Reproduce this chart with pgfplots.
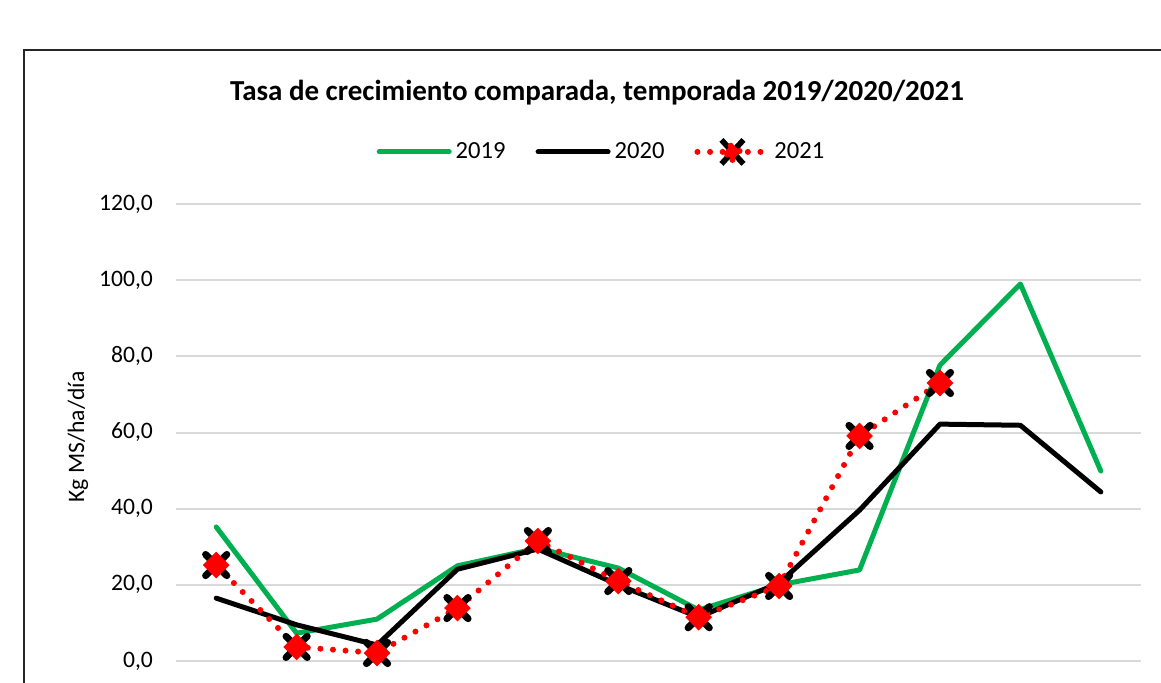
\documentclass[border=0pt]{standalone}
\usepackage{fontspec}
\setmainfont{Carlito}
\usepackage{pgfplots}
\pgfplotsset{compat=1.18}
\definecolor{cgreen}{RGB}{0,176,80}
\definecolor{cgrid}{RGB}{217,217,217}
\begin{document}
\begin{tikzpicture}[x=0.5pt,y=0.5pt]
\useasboundingbox (0,0) rectangle (1161,682);
\clip (0,0) rectangle (1161,682);
\fill[white] (0,0) rectangle (1161,682);
\draw[black!85, line width=1pt] (24,-20) rectangle (1200,632);
\node[font=\bfseries\fontsize{14.5}{17}\selectfont] at (597,589) {Tasa de crecimiento comparada, temporada 2019/2020/2021};
\node[rotate=90, font=\fontsize{11.8}{14}\selectfont] at (78,245) {Kg MS/ha/día};
\begin{axis}[
  at={(88pt,10.5pt)}, anchor=south west,
  scale only axis, width=482.5pt, height=228.5pt,
  xmin=-0.5, xmax=11.5, ymin=0, ymax=120,
  clip=false,
  axis line style={draw=none},
  xtick=\empty,
  ytick={0,20,...,120},
  major tick length=0pt,
  ymajorgrids,
  grid style={cgrid, line width=1pt},
  yticklabel style={font=\fontsize{11.8}{14}\selectfont, xshift=-8pt},
  /pgf/number format/assume math mode=true,
  /pgf/number format/.cd, fixed, fixed zerofill, precision=1, use comma, 1000 sep={},
  /pgfplots/.cd,
  legend style={at={(rel axis cs:0.442,1.114)}, anchor=center, draw=none, fill=none,
    legend columns=3, font=\fontsize{12.3}{14}\selectfont,
    /tikz/every even column/.append style={column sep=13pt},
    legend cell align=left},
]
\addplot[cgreen, line width=2.5pt, line join=round, line cap=round,
  legend image code/.code={\draw[cgreen, line width=2.5pt, line cap=round] (0pt,0pt) -- (35pt,0pt);}]
  coordinates {(0,35.2)(1,7.3)(2,11.0)(3,25.0)(4,29.6)(5,24.4)(6,13.4)(7,20.0)(8,23.9)(9,77.7)(10,99.0)(11,49.9)};
\addlegendentry{2019}
\addplot[black, line width=2.5pt, line join=round, line cap=round,
  legend image code/.code={\draw[black, line width=2.5pt, line cap=round] (0pt,0pt) -- (35pt,0pt);}]
  coordinates {(0,16.5)(1,9.5)(2,4.2)(3,24.1)(4,29.4)(5,20.0)(6,11.5)(7,20.5)(8,39.6)(9,62.2)(10,61.9)(11,44.4)};
\addlegendentry{2020}
\addplot[red, line width=3pt, line cap=round, dash pattern=on 0pt off 6.3pt,
  mark=x, mark size=7.5pt, mark options={black, line width=3.5pt, solid},
  legend image code/.code={
    \draw[red, line width=3pt, line cap=round, dash pattern=on 0pt off 6.3pt] (0pt,0pt) -- (35pt,0pt);
    \draw[black, solid, line cap=butt, line width=2.8pt] (12pt,-6pt) -- (23pt,6pt) (12pt,6pt) -- (23pt,-6pt);
    \fill[red] (17.5pt,-4pt) -- (21.5pt,0pt) -- (17.5pt,4pt) -- (13.5pt,0pt) -- cycle;
  }]
  coordinates {(0,25.2)(1,3.7)(2,2.1)(3,13.9)(4,31.5)(5,21.0)(6,11.5)(7,19.7)(8,59.1)(9,73.0)};
\addlegendentry{2021}
\addplot[only marks, mark=square*, mark size=4.5pt, mark options={red, draw=red, rotate=45}, forget plot]
  coordinates {(0,25.2)(1,3.7)(2,2.1)(3,13.9)(4,31.5)(5,21.0)(6,11.5)(7,19.7)(8,59.1)(9,73.0)};
\end{axis}
\end{tikzpicture}
\end{document}
